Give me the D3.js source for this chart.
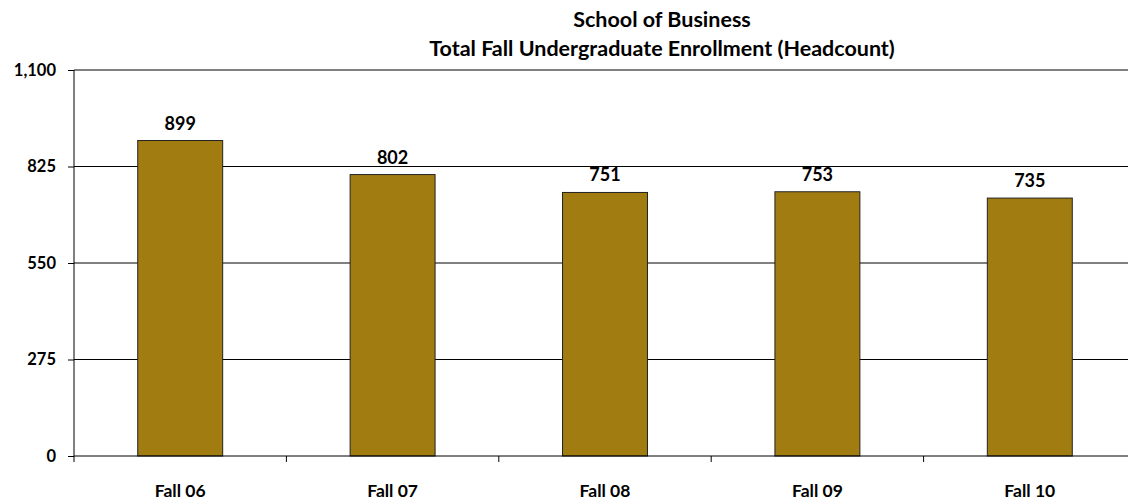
<!DOCTYPE html>
<html>
<head>
<meta charset="utf-8">
<script src="https://cdn.jsdelivr.net/npm/d3@7"></script>
<style>
  body { margin: 0; background: #fff; }
  text { font-family: Lato, "Open Sans", sans-serif; font-weight: bold; fill: #000; }
</style>
</head>
<body>
<div id="chart"></div>
<script>
// chart data
var terms = ['Fall 06', 'Fall 07', 'Fall 08', 'Fall 09', 'Fall 10'];
var headcount = [899, 802, 751, 753, 735];
var yTicks = [0, 275, 550, 825, 1100];
var titleLines = ['School of Business', 'Total Fall Undergraduate Enrollment (Headcount)'];

var margin = {top: 70, right: -8, bottom: 47, left: 74},
    width = 1128 - margin.left - margin.right,
    height = 503 - margin.top - margin.bottom;

var barColor = '#a17d11';

var svg = d3.select('#chart').append('svg')
    .attr('width', 1128)
    .attr('height', 503)
    .style('overflow', 'hidden');

// title
svg.selectAll('.title')
    .data(titleLines)
  .enter().append('text')
    .attr('class', 'title')
    .attr('x', 662)
    .attr('y', function(d, i) { return 27 + i * 29; })
    .attr('text-anchor', 'middle')
    .style('font-size', '21.5px')
    .text(function(d) { return d; });

var g = svg.append('g')
    .attr('transform', 'translate(' + margin.left + ',' + margin.top + ')');

var x = d3.scaleBand()
    .domain(terms)
    .range([0, width])
    .paddingInner(0.6)
    .paddingOuter(0.3);

var y = d3.scaleLinear()
    .domain([0, 1100])
    .range([height, 0]);

// gridlines
g.selectAll('.grid')
    .data(yTicks.filter(function(d) { return d > 0; }))
  .enter().append('line')
    .attr('class', 'grid')
    .attr('x1', 0)
    .attr('x2', width)
    .attr('y1', function(d) { return y(d); })
    .attr('y2', function(d) { return y(d); })
    .attr('stroke', '#000')
    .attr('stroke-width', 1);

// bars
g.selectAll('.bar')
    .data(headcount)
  .enter().append('rect')
    .attr('class', 'bar')
    .attr('x', function(d, i) { return x(terms[i]); })
    .attr('width', x.bandwidth())
    .attr('y', function(d) { return y(d); })
    .attr('height', function(d) { return height - y(d); })
    .attr('fill', barColor)
    .attr('stroke', '#222')
    .attr('stroke-width', 1);

// value labels
g.selectAll('.label')
    .data(headcount)
  .enter().append('text')
    .attr('class', 'label')
    .attr('x', function(d, i) { return x(terms[i]) + x.bandwidth() / 2; })
    .attr('y', function(d) { return y(d) - 11; })
    .attr('text-anchor', 'middle')
    .style('font-size', '18px')
    .text(function(d) { return d; });

// y axis
var yAxis = g.append('g')
    .call(d3.axisLeft(y).tickValues(yTicks).tickSize(6).tickPadding(12)
        .tickFormat(d3.format(',')));
yAxis.selectAll('text').style('font-size', '16.5px');
yAxis.selectAll('line, path').attr('stroke', '#000');
yAxis.select('.domain').attr('d', 'M0,' + height + 'V0');

// x axis: ticks at category boundaries
var step = x.step();
var xAxis = g.append('g')
    .attr('transform', 'translate(0,' + height + ')');
xAxis.append('line')
    .attr('x1', 0).attr('x2', width)
    .attr('stroke', '#000');
xAxis.selectAll('.xtick')
    .data(d3.range(terms.length + 1))
  .enter().append('line')
    .attr('class', 'xtick')
    .attr('x1', function(i) { return i * step; })
    .attr('x2', function(i) { return i * step; })
    .attr('y1', 0).attr('y2', 6)
    .attr('stroke', '#000');
xAxis.selectAll('.xlabel')
    .data(terms)
  .enter().append('text')
    .attr('class', 'xlabel')
    .attr('x', function(d) { return x(d) + x.bandwidth() / 2; })
    .attr('y', 41)
    .attr('text-anchor', 'middle')
    .style('font-size', '17.5px')
    .text(function(d) { return d; });
</script>
</body>
</html>
